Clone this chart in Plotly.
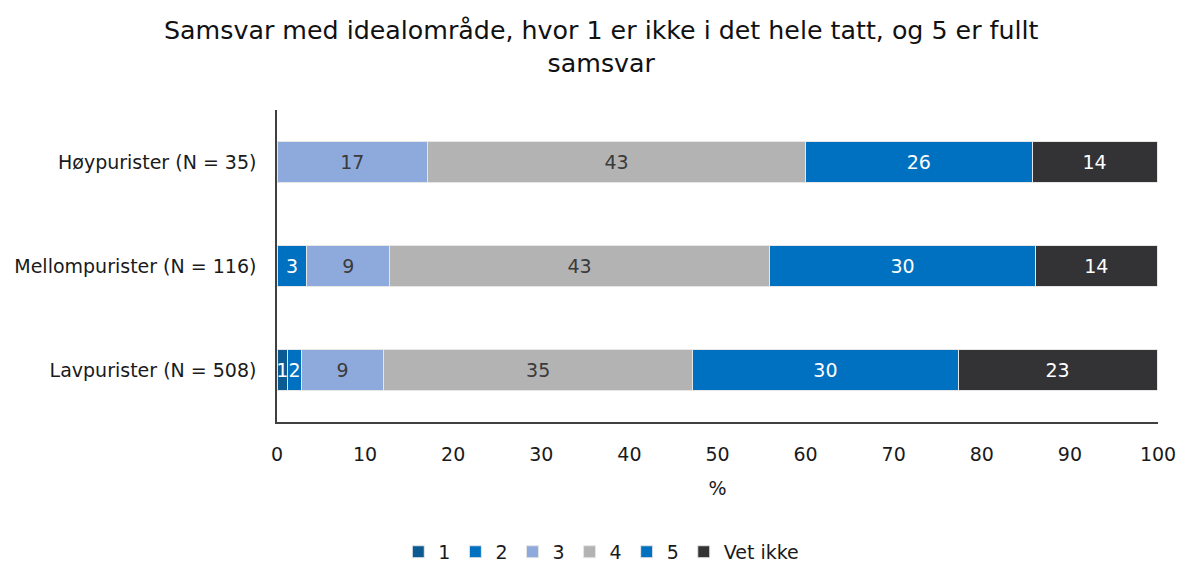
import plotly.graph_objects as go

groups = ["Høypurister (N = 35)", "Mellompurister (N = 116)", "Lavpurister (N = 508)"]
series_names = ["1", "2", "3", "4", "5", "Vet ikke"]
v1 = [0, 0, 1.2]
v2 = [0, 3.4, 1.6]
v3 = [17.1, 9.4, 9.3]
v4 = [42.9, 43.1, 35.1]
v5 = [25.7, 30.2, 30.1]
v_vet = [14.2, 13.8, 22.6]
series_values = [v1, v2, v3, v4, v5, v_vet]
colors = ["#0B5A92", "#0070C0", "#8EAADC", "#B3B3B3", "#0070C0", "#333335"]
text_colors = ["white", "white", "#3a3a3a", "#3a3a3a", "white", "white"]

FONT = "DejaVu Sans"
FS = 19

fig = go.Figure()
for name, vals, col, tcol in zip(series_names, series_values, colors, text_colors):
    texts = [("" if v == 0 else f"{v:.0f}") for v in vals]
    fig.add_trace(go.Bar(
        y=groups, x=vals, name=name, orientation="h",
        marker=dict(color=col, line=dict(color="#e6e6e6", width=1)),
        text=texts, textposition="inside", insidetextanchor="middle",
        textfont=dict(color=tcol, size=FS, family=FONT),
        hoverinfo="skip", cliponaxis=False,
    ))

fig.update_layout(
    barmode="stack",
    bargap=0.6,
    width=1179, height=562,
    paper_bgcolor="white", plot_bgcolor="white",
    margin=dict(l=277, r=21, t=110, b=140),
    font=dict(family=FONT, size=FS, color="#1a1a1a"),
    title=dict(text="Samsvar med idealområde, hvor 1 er ikke i det hele tatt, og 5 er fullt<br>samsvar",
               x=0.51, xanchor="center", y=0.931, yanchor="middle",
               font=dict(size=25.3, family=FONT, color="#111")),
    uniformtext=dict(minsize=FS, mode="show"),
    legend=dict(orientation="h", x=0.51, xanchor="center", xref="container",
                y=0.018, yanchor="middle", yref="container",
                font=dict(size=FS, family=FONT), traceorder="normal"),
    xaxis=dict(range=[0, 100], dtick=10, showgrid=False, zeroline=False, automargin=False,
               showline=True, linecolor="#404040", linewidth=1.5, ticklabelstandoff=14,
               ticks="", tickfont=dict(size=FS), title=dict(text="%", font=dict(size=FS), standoff=18)),
    yaxis=dict(autorange="reversed", showgrid=False, showline=True, linecolor="#404040",
               automargin=False, linewidth=1.5, ticks="", tickfont=dict(size=FS),
               ticklabelstandoff=15),
)

fig.write_html("out.html", config={"displayModeBar": False},
               post_script="document.body.style.margin='0px';")
